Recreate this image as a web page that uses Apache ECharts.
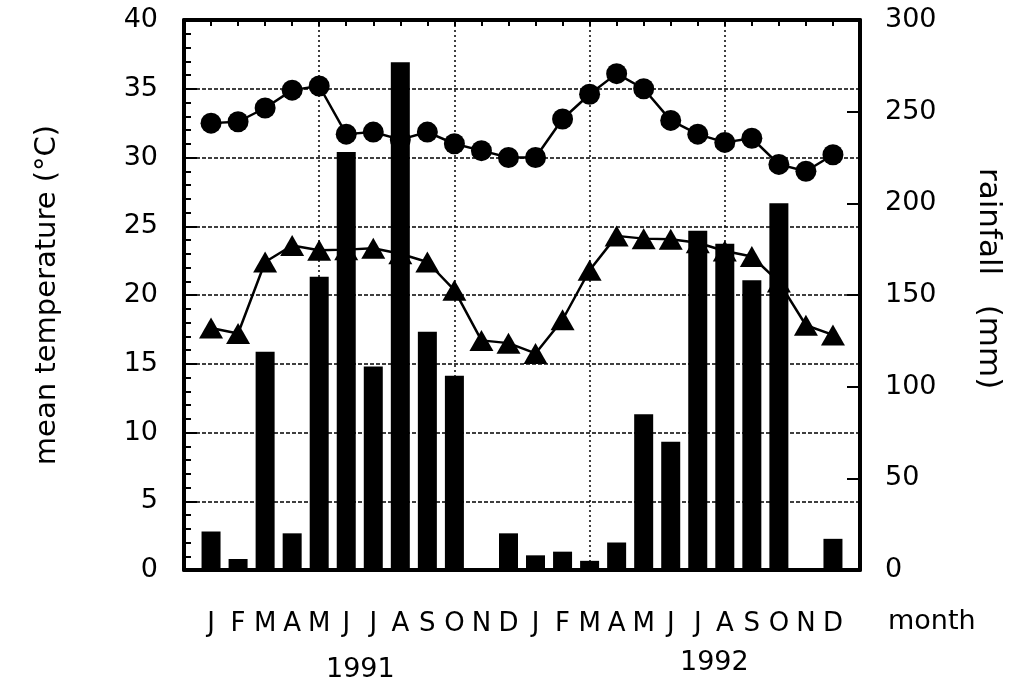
<!DOCTYPE html>
<html>
<head>
<meta charset="utf-8">
<script src="https://cdn.jsdelivr.net/npm/echarts@6/dist/echarts.min.js"></script>
<style>
html,body{margin:0;padding:0;background:#fff;}
#chart{width:1009px;height:697px;}
</style>
</head>
<body>
<div id="chart"></div>
<script>
// ---- data ----
const monthLabels = ['J','F','M','A','M','J','J','A','S','O','N','D','J','F','M','A','M','J','J','A','S','O','N','D'];
const yearLabels = ['1991', '1992'];
// mean temperature, circles (°C)
const tempCircles = [32.5, 32.6, 33.6, 34.9, 35.2, 31.7, 31.85, 31.3, 31.85, 31.0, 30.5, 30.0,
                     30.0, 32.8, 34.6, 36.1, 35.0, 32.7, 31.7, 31.1, 31.4, 29.5, 29.0, 30.2];
// mean temperature, triangles (°C)
const tempTriangles = [17.6, 17.2, 22.4, 23.6, 23.25, 23.3, 23.4, 23.0, 22.4, 20.35, 16.7, 16.5,
                       15.75, 18.2, 21.8, 24.3, 24.1, 24.05, 23.8, 23.2, 22.8, 20.95, 17.8, 17.1];
// rainfall (mm)
const rainfall = [21, 6, 119, 20, 160, 228, 111, 277, 130, 106, 1, 20,
                  8, 10, 5, 15, 85, 70, 185, 178, 158, 200, 1, 17];

const toPairs = arr => arr.map((v, i) => [i + 1, v]);
const FONT = 'DejaVu Sans';

const chart = echarts.init(document.getElementById('chart'), null, {renderer: 'canvas'});
const axisLine = {show: true, onZero: false, lineStyle: {color: '#000', width: 4}};

chart.setOption({
  animation: false,
  backgroundColor: '#fff',
  grid: {left: 184, right: 149, top: 20, bottom: 127, containLabel: false},
  xAxis: [
    {
      type: 'value', position: 'bottom', min: 0, max: 25, interval: 1,
      axisLine: axisLine,
      axisTick: {show: false},
      splitLine: {show: false},
      axisLabel: {
        margin: 41, color: '#000', fontFamily: FONT, fontSize: 26,
        formatter: v => (v >= 1 && v <= 24) ? monthLabels[v - 1] : ''
      }
    },
    {
      type: 'value', position: 'top', min: 0, max: 25, interval: 5,
      axisLine: axisLine,
      axisTick: {show: true, inside: true, length: 6, lineStyle: {color: '#000', width: 2}},
      minorTick: {show: true, splitNumber: 5, length: 6, lineStyle: {color: '#000', width: 2}},
      splitLine: {show: true, lineStyle: {color: '#000', width: 1.5, type: [2, 3]}},
      axisLabel: {show: false}
    }
  ],
  yAxis: [
    {
      type: 'value', position: 'left', min: 0, max: 40, interval: 5,
      name: 'mean temperature (°C)', nameLocation: 'middle', nameGap: 122, nameRotate: 90,
      nameTextStyle: {color: '#000', fontFamily: FONT, fontSize: 29},
      axisLine: axisLine,
      axisTick: {show: true, inside: true, length: 13, lineStyle: {color: '#000', width: 2}},
      minorTick: {show: true, splitNumber: 5, length: 7, lineStyle: {color: '#000', width: 2}},
      splitLine: {show: true, lineStyle: {color: '#000', width: 1.6, type: [4, 2]}},
      axisLabel: {margin: 26, color: '#000', fontFamily: FONT, fontSize: 27}
    },
    {
      type: 'value', position: 'right', min: 0, max: 300, interval: 50,
      axisLine: axisLine,
      axisTick: {show: true, inside: true, length: 13, lineStyle: {color: '#000', width: 2}},
      splitLine: {show: false},
      axisLabel: {margin: 25, color: '#000', fontFamily: FONT, fontSize: 27}
    }
  ],
  graphic: [
    {type: 'text', left: 326, top: 656, style: {text: yearLabels[0], font: '27px "DejaVu Sans"', fill: '#000'}},
    {type: 'text', left: 680, top: 649, style: {text: yearLabels[1], font: '27px "DejaVu Sans"', fill: '#000'}},
    {type: 'text', left: 888, top: 608, style: {text: 'month', font: '27px "DejaVu Sans"', fill: '#000'}},
    {type: 'text', x: 1004, y: 168, rotation: -Math.PI / 2,
     style: {text: 'rainfall   (mm)', font: '31px "DejaVu Sans"', fill: '#000'}}
  ],
  series: [
    {
      type: 'line', xAxisIndex: 0, yAxisIndex: 0, data: toPairs(tempCircles), z: 2,
      symbol: 'circle', symbolSize: 21,
      lineStyle: {color: '#000', width: 2.5}, itemStyle: {color: '#000'}
    },
    {
      type: 'line', xAxisIndex: 0, yAxisIndex: 0, data: toPairs(tempTriangles), z: 2,
      symbol: 'triangle', symbolSize: [24, 21],
      lineStyle: {color: '#000', width: 2.5}, itemStyle: {color: '#000'}
    },
    {
      type: 'bar', xAxisIndex: 0, yAxisIndex: 1, data: toPairs(rainfall), z: 5,
      barWidth: 19, itemStyle: {color: '#000'}
    }
  ]
});
</script>
</body>
</html>
